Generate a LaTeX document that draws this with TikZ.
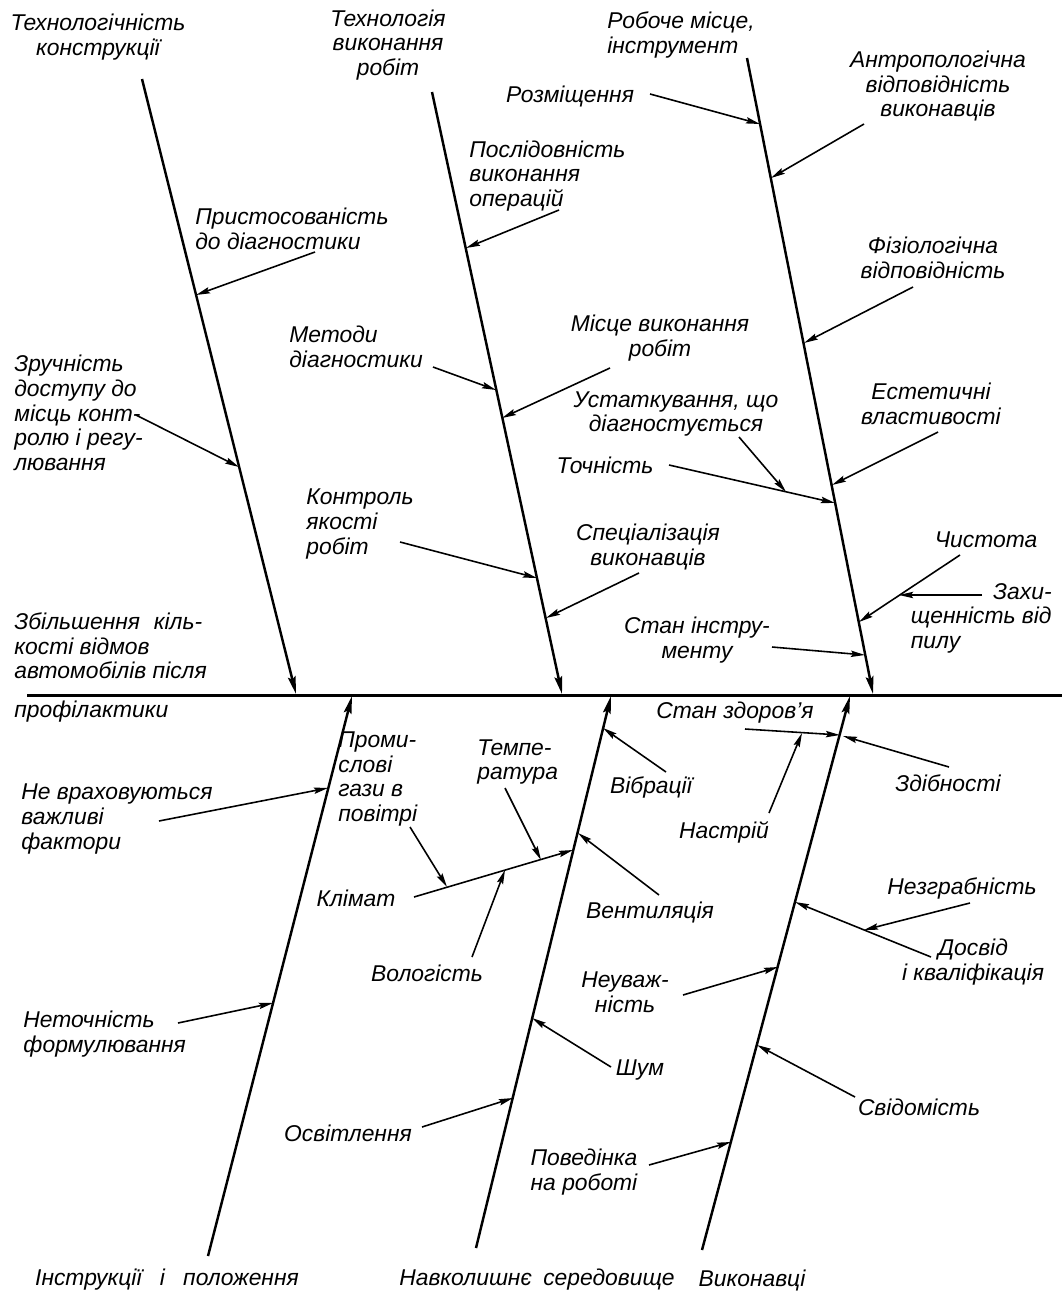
\documentclass[tikz,border=0pt]{standalone}
\usepackage{fontspec}
\setmainfont{Liberation Sans}
\usetikzlibrary{arrows.meta}

\begin{document}
\begin{tikzpicture}[
    x=0.02cm, y=-0.02cm,
    >={Stealth[length=8pt, width=3.6pt, inset=1.2pt]},
    spine/.style={line width=1.7pt},
    bone/.style={-{Stealth[length=10pt, width=4.4pt, inset=1.5pt]}, line width=1.4pt},
    arr/.style={->, line width=0.9pt},
    lbl/.style={font=\fontsize{13}{14}\selectfont\itshape, inner sep=0pt, align=center},
    lbll/.style={lbl, align=left}
]
\useasboundingbox (0,0) rectangle (1062,1295);

% spine and bones
\coordinate (sl) at (27,695);
\coordinate (sr) at (1062,695);
\coordinate (b1t) at (142,79);   \coordinate (b1b) at (296,694);
\coordinate (b2t) at (432,92);   \coordinate (b2b) at (562,694);
\coordinate (b3t) at (747,58);   \coordinate (b3b) at (873,694);
\coordinate (l1b) at (208,1256); \coordinate (l1t) at (352,696);
\coordinate (l2b) at (476,1248); \coordinate (l2t) at (611,696);
\coordinate (l3b) at (702,1250); \coordinate (l3t) at (850,696);

\draw[spine] (sl) -- (sr);
\draw[bone] (b1t) -- (b1b);
\draw[bone] (b2t) -- (b2b);
\draw[bone] (b3t) -- (b3b);
\draw[bone] (l1b) -- (l1t);
\draw[bone] (l2b) -- (l2t);
\draw[bone] (l3b) -- (l3t);

% main labels
\node[lbl] (tkon) at (98,37) {Технологічність\\конструкції};
\node[lbl] (ttex) at (388,45) {Технологія\\виконання\\робіт};
\node[lbll, anchor=west] (tmis) at (607,35) {Робоче місце,\\інструмент};
\node[lbll, anchor=west] (eff) at (14,646) {Збільшення\hspace{0.6em}кіль-\\кості відмов\\автомобілів після};
\node[lbll, anchor=west] (eff2) at (14,712) {профілактики};
\node[lbl] (inst) at (167,1280) {Інструкції\hspace{0.8em}і\hspace{0.8em}положення};
\node[lbl] (navk) at (537,1280) {Навколишнє\hspace{0.5em}середовище};
\node[lbl] (vyk) at (752,1280) {Виконавці};

% top causes
\node[lbll, anchor=west] (pry) at (195,229) {Пристосованість\\до діагностики};
\node[lbll, anchor=west] (zru) at (14,413) {Зручність\\доступу до\\місць конт-\\ролю і регу-\\лювання};
\node[lbll, anchor=west] (met) at (289,347) {Методи\\діагностики};
\node[lbll, anchor=west] (kon) at (306,524) {Контроль\\якості\\робіт};
\node[lbll, anchor=west] (pos) at (469,176) {Послідовність\\виконання\\операцій};
\node[lbl] (roz) at (570,96) {Розміщення};
\node[lbl] (ant) at (938,86) {Антропологічна\\відповідність\\виконавців};
\node[lbl] (fiz) at (933,258) {Фізіологічна\\відповідність};
\node[lbl] (mvr) at (660,338) {Місце виконання\\робіт};
\node[lbl] (ust) at (676,414) {Устаткування, що\\діагностується};
\node[lbl] (toc) at (605,465) {Точність};
\node[lbl] (est) at (931,404) {Естетичні\\властивості};
\node[lbl] (spe) at (648,547) {Спеціалізація\\виконавців};
\node[lbl] (chy) at (986,540) {Чистота};
\node[lbll, anchor=east] (zah) at (1052,618) {\phantom{щенність від}\llap{Захи-}\\щенність від\\пилу};
\node[lbl] (sti) at (697,640) {Стан інстру-\\менту};

% bottom causes
\node[lbll, anchor=west] (nev) at (21,819) {Не враховуються\\важливі\\фактори};
\node[lbll, anchor=west] (nef) at (23,1034) {Неточність\\формулювання};
\node[lbll, anchor=west] (pro) at (338,779) {Проми-\\слові\\гази в\\повітрі};
\node[lbll, anchor=west] (tem) at (477,762) {Темпе-\\ратура};
\node[lbl] (kli) at (356,898) {Клімат};
\node[lbl] (vol) at (427,973) {Вологість};
\node[lbl] (vib) at (651,787) {Вібрації};
\node[lbl] (ven) at (650,912) {Вентиляція};
\node[lbl] (osv) at (348,1133) {Освітлення};
\node[lbl] (shu) at (640,1070) {Шум};
\node[lbl] (neu) at (625,992) {Неуваж-\\ність};
\node[lbl] (pov) at (584,1172) {Поведінка\\на роботі};
\node[lbl] (szd) at (735,713) {Стан здоров’я};
\node[lbl] (nas) at (724,832) {Настрій};
\node[lbl] (zdi) at (948,783) {Здібності};
\node[lbl] (nez) at (962,888) {Незграбність};
\node[lbl] (dos) at (973,962) {Досвід\\і кваліфікація};
\node[lbl] (svi) at (919,1107) {Свідомість};

% arrow ends, top
\coordinate (s-pry) at (315,252);  \coordinate (e-pry) at (196,295);
\coordinate (s-zru) at (136,415);  \coordinate (e-zru) at (239,467);
\coordinate (s-met) at (433,367);  \coordinate (e-met) at (496,390);
\coordinate (s-kon) at (400,542);  \coordinate (e-kon) at (537,578);
\coordinate (s-pos) at (559,210);  \coordinate (e-pos) at (466,248);
\coordinate (s-mvr) at (610,368);  \coordinate (e-mvr) at (502,418);
\coordinate (s-spe) at (639,573);  \coordinate (e-spe) at (546,618);
\coordinate (s-roz) at (650,94);   \coordinate (e-roz) at (760,124);
\coordinate (s-ant) at (864,124);  \coordinate (e-ant) at (771,178);
\coordinate (s-fiz) at (913,287);  \coordinate (e-fiz) at (804,343);
\coordinate (s-est) at (938,432);  \coordinate (e-est) at (832,485);
\coordinate (s-toc) at (669,465);  \coordinate (e-toc) at (835,503);
\coordinate (s-ust) at (739,437);  \coordinate (e-ust) at (786,492);
\coordinate (s-chy) at (960,555);  \coordinate (e-chy) at (859,622);
\coordinate (s-zah) at (982,595);  \coordinate (e-zah) at (899,595);
\coordinate (s-sti) at (772,647);  \coordinate (e-sti) at (865,655);

% arrow ends, bottom
\coordinate (s-nev) at (159,821);  \coordinate (e-nev) at (328,788);
\coordinate (s-nef) at (178,1023); \coordinate (e-nef) at (273,1003);
\coordinate (s-kli) at (414,897);  \coordinate (e-kli) at (573,850);
\coordinate (s-pro) at (410,827);  \coordinate (e-pro) at (447,887);
\coordinate (s-tem) at (505,788);  \coordinate (e-tem) at (541,860);
\coordinate (s-vol) at (472,957);  \coordinate (e-vol) at (505,870);
\coordinate (s-vib) at (666,772);  \coordinate (e-vib) at (603,728);
\coordinate (s-ven) at (659,895);  \coordinate (e-ven) at (578,833);
\coordinate (s-shu) at (611,1067); \coordinate (e-shu) at (532,1018);
\coordinate (s-osv) at (422,1127); \coordinate (e-osv) at (513,1098);
\coordinate (s-szd) at (745,729);  \coordinate (e-szd) at (840,735);
\coordinate (s-nas) at (769,813);  \coordinate (e-nas) at (802,733);
\coordinate (s-zdi) at (949,767);  \coordinate (e-zdi) at (843,736);
\coordinate (s-dos) at (931,957);  \coordinate (e-dos) at (795,902);
\coordinate (s-nez) at (970,903);  \coordinate (e-nez) at (864,930);
\coordinate (s-neu) at (683,995);  \coordinate (e-neu) at (778,967);
\coordinate (s-svi) at (855,1097); \coordinate (e-svi) at (757,1045);
\coordinate (s-pov) at (649,1165); \coordinate (e-pov) at (731,1142);

\draw[arr] (s-pry) -- (e-pry);
\draw[arr] (s-zru) -- (e-zru);
\draw[arr] (s-met) -- (e-met);
\draw[arr] (s-kon) -- (e-kon);
\draw[arr] (s-pos) -- (e-pos);
\draw[arr] (s-mvr) -- (e-mvr);
\draw[arr] (s-spe) -- (e-spe);
\draw[arr] (s-roz) -- (e-roz);
\draw[arr] (s-ant) -- (e-ant);
\draw[arr] (s-fiz) -- (e-fiz);
\draw[arr] (s-est) -- (e-est);
\draw[arr] (s-toc) -- (e-toc);
\draw[arr] (s-ust) -- (e-ust);
\draw[arr] (s-chy) -- (e-chy);
\draw[arr] (s-zah) -- (e-zah);
\draw[arr] (s-sti) -- (e-sti);

\draw[arr] (s-nev) -- (e-nev);
\draw[arr] (s-nef) -- (e-nef);
\draw[arr] (s-kli) -- (e-kli);
\draw[arr] (s-pro) -- (e-pro);
\draw[arr] (s-tem) -- (e-tem);
\draw[arr] (s-vol) -- (e-vol);
\draw[arr] (s-vib) -- (e-vib);
\draw[arr] (s-ven) -- (e-ven);
\draw[arr] (s-shu) -- (e-shu);
\draw[arr] (s-osv) -- (e-osv);
\draw[arr] (s-szd) -- (e-szd);
\draw[arr] (s-nas) -- (e-nas);
\draw[arr] (s-zdi) -- (e-zdi);
\draw[arr] (s-dos) -- (e-dos);
\draw[arr] (s-nez) -- (e-nez);
\draw[arr] (s-neu) -- (e-neu);
\draw[arr] (s-svi) -- (e-svi);
\draw[arr] (s-pov) -- (e-pov);
\end{tikzpicture}
\end{document}
